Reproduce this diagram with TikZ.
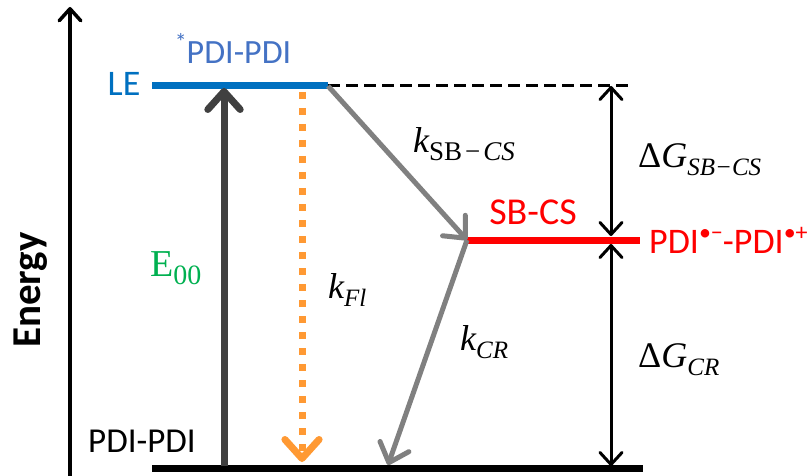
\documentclass[tikz,border=0pt]{standalone}
\usepackage{fontspec}
\setmainfont{Carlito}
\newfontfamily\mf{Liberation Serif}
\usetikzlibrary{arrows.meta}
\definecolor{leblue}{RGB}{0,112,192}
\definecolor{lblue}{RGB}{68,114,196}
\definecolor{csred}{RGB}{255,0,0}
\definecolor{egreen}{RGB}{0,176,80}
\definecolor{dgray}{RGB}{64,64,64}
\definecolor{mgray}{RGB}{128,128,128}
\definecolor{forange}{RGB}{255,153,51}
\newcommand\lsub[2][25]{\raisebox{-8pt}{\fontsize{#1}{#1}\selectfont #2}}
\newcommand\rsup[1]{\raisebox{13pt}{\fontsize{24}{24}\selectfont #1}}
\tikzset{
  lbl/.style={inner sep=0pt, font=\fontsize{34}{40}\selectfont},
  mlbl/.style={inner sep=0pt, font=\fontsize{36}{40}\selectfont\mf},
  level/.style={line width=7pt},
  barb/.style={-{Straight Barb[length=#1, width=1.8*#1, line cap=round, round]}},
  dbarb/.style={{Straight Barb[length=12pt, width=22pt, line cap=round, round]}-{Straight Barb[length=12pt, width=22pt, line cap=round, round]}},
}
\begin{document}
\begin{tikzpicture}[x=1pt,y=-1pt]
\useasboundingbox (0,0) rectangle (809,476);
% coordinates
\coordinate (axb) at (70,476);
\coordinate (axt) at (70,7);
\coordinate (le1) at (152,86);
\coordinate (le2) at (328,86);
\coordinate (le3) at (630,86);
\coordinate (g1) at (152,468);
\coordinate (g2) at (643,468);
\coordinate (cs1) at (467,240);
\coordinate (cs2) at (640,240);
\coordinate (e0) at (224,466);
\coordinate (e1) at (224,88);
\coordinate (f0) at (302,92);
\coordinate (f1) at (302,462);
\coordinate (cr1) at (388,465);
\coordinate (dA) at (611,86);
\coordinate (dB1) at (611,236);
\coordinate (dB2) at (611,244);
\coordinate (dC) at (611,466);
% axis
\draw[line width=3.5pt, barb=12pt] (axb) -- (axt);
\node[lbl, rotate=90, font=\fontsize{41}{40}\selectfont\bfseries] (energy) at (31,290) {Energy};
% levels
\draw[level, leblue] (le1) -- (le2);
\draw[line width=3pt, dash pattern=on 12pt off 6pt] (le2) -- (le3);
\draw[level] (g1) -- (g2);
\draw[level, csred] (cs1) -- (cs2);
% arrows
\draw[line width=7pt, dgray, barb=18pt] (e0) -- (e1);
\draw[line width=7pt, forange, dash pattern=on 7pt off 9pt, barb=19pt] (f0) -- (f1);
\draw[line width=5pt, mgray, barb=17pt] (le2) -- (cs1);
\draw[line width=5pt, mgray, barb=17pt] (cs1) -- (cr1);
\draw[line width=3pt, dbarb] (dA) -- (dB1);
\draw[line width=3pt, dbarb] (dB2) -- (dC);
% labels
\node[lbl, leblue, font=\fontsize{36}{40}\selectfont] (leT) at (124,84) {LE};
\node[lbl, lblue] (pdiT) at (233,48) {\rsup{*}PDI-PDI};
\node[lbl, font=\fontsize{35}{40}\selectfont] (gT) at (142,441) {PDI-PDI};
\node[mlbl, egreen, anchor=west, font=\fontsize{38}{40}\selectfont\mf] (e00) at (150,268) {E\lsub[28]{00}};
\node[mlbl, anchor=west] (kfl) at (328,290) {\itshape k\lsub{Fl}};
\node[mlbl, anchor=west] (ksb) at (413,144) {\itshape k\lsub[27]{\upshape SB\hspace{3pt}−\hspace{3pt}\itshape CS}};
\node[mlbl, anchor=west] (kcr) at (460,342) {\itshape k\lsub{CR}};
\node[lbl, csred, font=\fontsize{38}{40}\selectfont] (sbT) at (533,212) {SB-CS};
\node[lbl, csred, anchor=west, font=\fontsize{36}{40}\selectfont] (radT) at (649,240) {PDI\rsup{•−}-PDI\rsup{•+}};
\node[mlbl, anchor=west] (dg1) at (638,160) {Δ\itshape G\lsub{SB−CS}};
\node[mlbl, anchor=west] (dg2) at (638,360) {Δ\itshape G\lsub{CR}};
\end{tikzpicture}
\end{document}
